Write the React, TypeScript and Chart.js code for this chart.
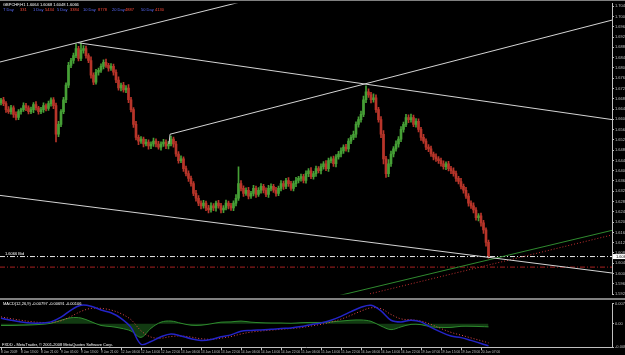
import React, { useEffect, useRef } from "react";
import { Chart, registerables } from "chart.js";

Chart.register(...registerables);

const FONT = "'Liberation Sans', Arial, sans-serif";

// ---- price data (H1 bars, GBPCHF) ----
const FIRST_OPEN = 1.6665;
const CLOSES = [
  1.6676, 1.6661, 1.6638, 1.663, 1.6645, 1.6619, 1.6607, 1.663, 1.6638, 1.6653,
  1.6645, 1.663, 1.6638, 1.6657, 1.6645, 1.663, 1.6638, 1.6653, 1.6642, 1.6661,
  1.6676, 1.6653, 1.6542, 1.658, 1.663, 1.6676, 1.6733, 1.681, 1.6829, 1.6848,
  1.6875, 1.6837, 1.6868, 1.6875, 1.6848, 1.6829, 1.6772, 1.6745, 1.6783, 1.6791,
  1.6806, 1.6822, 1.681, 1.6799, 1.6806, 1.6783, 1.6753, 1.6722, 1.6733, 1.6714,
  1.6722, 1.6676, 1.6638, 1.658, 1.653, 1.6515, 1.6523, 1.6504, 1.6511, 1.6496,
  1.6504, 1.6515, 1.6504, 1.6492, 1.6504, 1.6511, 1.6496, 1.6504, 1.6523, 1.6504,
  1.6465, 1.6439, 1.6446, 1.6408, 1.6389, 1.637, 1.635, 1.6312, 1.6293, 1.6274,
  1.6263, 1.6274, 1.6255, 1.6247, 1.6263, 1.6255, 1.6274, 1.6263, 1.6247, 1.6255,
  1.6274, 1.6263, 1.6255, 1.6274, 1.6293, 1.635, 1.6331, 1.6312, 1.6324, 1.6301,
  1.6312, 1.6331, 1.6308, 1.6324, 1.6339, 1.6324, 1.6308, 1.6331, 1.6339, 1.6324,
  1.6312, 1.6331, 1.635, 1.6339, 1.6362, 1.635, 1.6331, 1.635, 1.6362, 1.637,
  1.6377, 1.6362, 1.6389, 1.64, 1.6377, 1.6389, 1.6408, 1.64, 1.6416, 1.6427,
  1.6408, 1.6439, 1.6446, 1.6427, 1.6454, 1.6465, 1.6477, 1.6492, 1.6485, 1.6515,
  1.653, 1.6542, 1.658, 1.6599, 1.6619, 1.6676, 1.6707, 1.6695, 1.6676, 1.6684,
  1.6638, 1.6599, 1.6542, 1.6446, 1.6389, 1.6427, 1.6465, 1.6485, 1.6504, 1.6523,
  1.6561, 1.658, 1.6607, 1.6599, 1.6607, 1.658, 1.6592, 1.6561, 1.653, 1.6515,
  1.6492, 1.6485, 1.6465, 1.6454, 1.6446, 1.6439, 1.6427, 1.6416, 1.6427, 1.6408,
  1.64, 1.6389, 1.637, 1.6358, 1.6339, 1.6324, 1.6301, 1.6274, 1.6263, 1.6247,
  1.6217, 1.6224, 1.6197, 1.617, 1.6121, 1.6065,
];
// upper / lower wick lengths in pips
const WICK_UP = [
  6, 10, 8, 12, 9, 7, 10, 8, 6, 11, 9, 7, 10, 8, 12, 6, 9, 11, 7, 10,
  8, 9, 10, 12, 8, 10, 9, 12, 8, 10, 19, 9, 30, 12, 10, 8, 14, 9, 11, 8,
  10, 9, 12, 8, 11, 9, 10, 12, 8, 11, 9, 13, 10, 8, 12, 9, 10, 8, 11, 9,
  8, 12, 9, 10, 8, 11, 9, 10, 12, 8, 10, 9, 12, 8, 10, 11, 9, 8, 12, 10,
  9, 11, 8, 10, 12, 9, 8, 11, 10, 9, 12, 8, 10, 9, 14, 65, 12, 10, 9, 11,
  8, 12, 9, 10, 11, 8, 9, 12, 10, 8, 11, 9, 12, 10, 8, 11, 9, 10, 12, 8,
  10, 9, 11, 8, 12, 9, 10, 8, 11, 9, 12, 10, 8, 11, 9, 10, 12, 9, 11, 10,
  9, 12, 10, 11, 13, 14, 23, 12, 10, 15, 11, 9, 12, 14, 10, 16, 11, 9, 12, 10,
  11, 9, 12, 10, 13, 9, 11, 10, 8, 12, 9, 10, 11, 8, 12, 9, 10, 11, 8, 10,
  9, 11, 10, 8, 12, 9, 11, 10, 9, 12, 10, 9, 11, 10, 8, 9,
];
const WICK_DN = [
  9, 8, 11, 7, 10, 12, 9, 8, 10, 7, 11, 9, 8, 12, 9, 10, 8, 11, 9, 7,
  10, 12, 30, 10, 9, 8, 11, 10, 9, 12, 8, 10, 9, 11, 10, 9, 12, 10, 8, 11,
  9, 10, 8, 12, 9, 11, 10, 9, 12, 8, 10, 11, 9, 12, 10, 14, 9, 11, 8, 12,
  10, 9, 11, 8, 12, 9, 10, 11, 8, 12, 9, 10, 8, 11, 9, 12, 10, 9, 11, 10,
  12, 9, 10, 11, 8, 10, 12, 9, 11, 10, 8, 12, 9, 10, 11, 9, 10, 12, 8, 11,
  9, 10, 12, 8, 11, 10, 9, 12, 10, 8, 11, 9, 10, 12, 9, 11, 8, 10, 12, 9,
  11, 9, 10, 12, 8, 10, 11, 9, 12, 10, 8, 11, 9, 10, 12, 9, 11, 10, 9, 12,
  10, 9, 12, 11, 10, 9, 11, 10, 12, 9, 11, 10, 13, 20, 15, 12, 10, 11, 9, 12,
  10, 11, 9, 12, 10, 9, 11, 10, 12, 9, 10, 11, 9, 12, 10, 11, 9, 10, 12, 9,
  11, 10, 12, 9, 10, 11, 9, 12, 10, 11, 9, 12, 13, 14, 15, 5,
];

const PRICE_TICKS = [
  1.704, 1.7, 1.696, 1.692, 1.688, 1.684, 1.68, 1.676, 1.672, 1.668,
  1.664, 1.66, 1.656, 1.652, 1.648, 1.644, 1.64, 1.636, 1.632, 1.628,
  1.624, 1.62, 1.616, 1.612, 1.608, 1.604, 1.6, 1.596, 1.592,
];

const TIME_LABEL_BARS = [0, 8, 16, 24, 32, 40, 48, 56, 64, 72, 80, 88, 96, 104, 112, 120, 128, 136, 144, 152, 160, 168, 176, 184, 192];
const TIME_LABELS = [
  "8 Jan 2009", "8 Jan 13:00", "8 Jan 21:00", "9 Jan 05:00", "9 Jan 13:00", "9 Jan 21:00",
  "12 Jan 06:00", "12 Jan 14:00", "12 Jan 22:00", "13 Jan 06:00", "13 Jan 14:00", "13 Jan 22:00",
  "14 Jan 06:00", "14 Jan 14:00", "14 Jan 22:00", "15 Jan 06:00", "15 Jan 14:00", "15 Jan 22:00",
  "16 Jan 06:00", "16 Jan 14:00", "16 Jan 22:00", "19 Jan 07:00", "19 Jan 15:00", "19 Jan 23:00",
  "20 Jan 07:00",
];

// trend lines: [bar index, price]
const TREND_TOP = [[-0.4, 1.6823], [96.8, 1.7059]];
const TREND_DOWN = [[30.8, 1.6898], [244.4, 1.6599]];
const TREND_UP = [[67.2, 1.6504], [67.6, 1.6542], [244.4, 1.6986]];
const TREND_LOW = [[-0.4, 1.6304], [244.4, 1.6002]];
const TREND_GREEN = [[135.6, 1.5915], [244.4, 1.6168]];
const TREND_RED = [[147.6, 1.5921], [244.4, 1.615]];
const BID = 1.6066;
const RED_LEVEL = 1.6025;

// ---- MACD(12,26,9) ----
const MACD_BARS = [0, 4, 8, 12, 16, 20, 24, 28, 32, 36, 40, 44, 48, 52, 56, 60, 64, 68, 72, 76, 80, 84, 88, 92, 96, 100, 104, 108, 112, 116, 120, 124, 128, 132, 136, 140, 144, 148, 152, 156, 160, 164, 168, 172, 176, 180, 184, 188, 192, 195];
const MACD_MAIN = [
  0.002, 0.0013, 0.0007, 0.0003, 0.0003, 0.0007, 0.0024, 0.005, 0.0067, 0.0064,
  0.005, 0.004, 0.002, -0.0013, -0.0074, -0.0064, -0.0047, -0.0037, -0.0044, -0.0054,
  -0.006, -0.0057, -0.0047, -0.004, -0.0027, -0.0024, -0.0022, -0.002, -0.0017, -0.0015,
  -0.001, -0.0003, 0.0003, 0.0013, 0.0027, 0.0044, 0.006, 0.0067, 0.0047, 0.0013,
  0.0007, 0.0013, 0.0007, -0.0013, -0.003, -0.0044, -0.005, -0.006, -0.0071, -0.008,
];
const MACD_SIGNAL = [
  0.0025, 0.0019, 0.0013, 0.0008, 0.0005, 0.0005, 0.0011, 0.0027, 0.0045, 0.0056,
  0.0056, 0.005, 0.0037, 0.0015, -0.0025, -0.0048, -0.0052, -0.0046, -0.0044, -0.0048,
  -0.0054, -0.0056, -0.0052, -0.0046, -0.0037, -0.003, -0.0026, -0.0023, -0.002, -0.0017,
  -0.0014, -0.0008, -0.0002, 0.0006, 0.0017, 0.0031, 0.0046, 0.0058, 0.0055, 0.0034,
  0.0018, 0.0015, 0.001, -0.0002, -0.0017, -0.0031, -0.0041, -0.0051, -0.0061, -0.0069,
];
const MACD_HIST = [
  -0.0006, -0.0006, -0.0005, -0.0004, -0.0002, 0.0002, 0.0013, 0.0022, 0.0021, 0.0008,
  -0.0006, -0.001, -0.0016, -0.0026, -0.0049, -0.0016, 0.0006, 0.001, 0.0002, -0.0005,
  -0.0005, 0.0, 0.0006, 0.0007, 0.001, 0.0006, 0.0004, 0.0003, 0.0003, 0.0002,
  0.0004, 0.0005, 0.0005, 0.0007, 0.001, 0.0013, 0.0014, 0.0009, -0.0008, -0.0021,
  -0.0011, -0.0002, -0.0003, -0.0011, -0.0013, -0.0013, -0.0009, -0.0009, -0.001, -0.0011,
];
const MACD_TICKS = [0.0074, 0, -0.0084];
const MACD_TICK_LABELS = ["0.007336", "0.00", "-0.008383"];

const TITLE = "GBPCHF,H1 1.6064 1.6068 1.6048 1.6066";
const STAT_TEXTS = ["T Day", "331", "1 Day", "5434", "5 Day", "3384", "10 Day", "8778", "20 Day", "4887", "50 Day", "4130"];
const MACD_TITLE = "MACD(12,26,9) -0.00797 -0.00691 -0.00106";
const FOOTER = "FXDD - MetaTrader, \u00a9 2001-2008 MetaQuotes Software Corp.";

const X_MIN = -0.4;
const X_MAX = 244.4;
const Y_MIN = 1.5918;
const Y_MAX = 1.7051;
const PIP = 0.0001;
const UP = "#46a036";
const DOWN = "#b8352a";
const LINE = "#d4d4d4";
const AXIS = "#c0c0c0";

const pts = (arr: number[][]) => arr.map(([x, y]) => ({ x, y }));

export default function App() {
  const mainRef = useRef<HTMLCanvasElement>(null);
  const macdRef = useRef<HTMLCanvasElement>(null);

  useEffect(() => {
    document.body.style.margin = "0";
    document.body.style.background = "#000";

    const wick: any[] = [];
    const body: any[] = [];
    const colors: string[] = [];
    for (let i = 0; i < CLOSES.length; i++) {
      const o = i === 0 ? FIRST_OPEN : CLOSES[i - 1];
      const c = CLOSES[i];
      wick.push({ x: i, y: [Math.min(o, c) - WICK_DN[i] * PIP, Math.max(o, c) + WICK_UP[i] * PIP] });
      body.push({ x: i, y: [o, c] });
      colors.push(c >= o ? UP : DOWN);
    }

    const lineDs = (data: any[], color: string, dash: number[] = [], order = 0) => ({
      type: "line" as const,
      data,
      borderColor: color,
      borderWidth: 1,
      borderDash: dash,
      pointRadius: 0,
      tension: 0,
      order,
    });

    const mainOverlay = {
      id: "mainOverlay",
      afterDraw(chart: any) {
        const ctx = chart.ctx;
        const area = chart.chartArea;
        const ys = chart.scales.y;
        ctx.save();
        ctx.fillStyle = "#808080";
        ctx.fillRect(0, 0, chart.width, 1);
        ctx.font = `4px ${FONT}`;
        ctx.textBaseline = "middle";
        ctx.textAlign = "left";
        ctx.fillStyle = "#ffffff";
        ctx.fillText(TITLE, 3, 4.5);
        const sx = [3, 20, 33, 45, 57, 70, 83, 98, 112, 125, 141, 155];
        STAT_TEXTS.forEach((t, i) => {
          ctx.fillStyle = i % 2 === 0 ? "#5a6cff" : "#ff4a3a";
          ctx.fillText(t, sx[i], 9.5);
        });
        const by = ys.getPixelForValue(BID);
        ctx.fillStyle = "#ffffff";
        ctx.fillText(BID.toFixed(4) + " Bid", 5, by - 3);
        ctx.fillRect(area.right + 1, by - 2.5, chart.width - area.right - 1, 5);
        ctx.fillStyle = "#000000";
        ctx.fillText(BID.toFixed(4), area.right + 4, by);
        ctx.restore();
      },
    };

    const main = new Chart(mainRef.current as HTMLCanvasElement, {
      type: "bar",
      data: {
        datasets: [
          lineDs(pts(TREND_TOP), LINE),
          lineDs(pts(TREND_DOWN), LINE),
          lineDs(pts(TREND_UP), LINE),
          lineDs(pts(TREND_LOW), LINE),
          lineDs(pts(TREND_GREEN), "#2f8a2f"),
          lineDs(pts(TREND_RED), "#c03030", [1, 2]),
          lineDs([{ x: X_MIN, y: BID }, { x: X_MAX, y: BID }], "#e8e8e8", [5, 2, 1, 2]),
          lineDs([{ x: X_MIN, y: RED_LEVEL }, { x: X_MAX, y: RED_LEVEL }], "#a82020", [5, 2, 1, 2]),
          {
            type: "bar",
            data: body,
            backgroundColor: colors,
            barThickness: 2,
            grouped: false,
            minBarLength: 1,
            order: 1,
          } as any,
          {
            type: "bar",
            data: wick,
            backgroundColor: colors,
            barThickness: 1,
            grouped: false,
            minBarLength: 1,
            order: 2,
          } as any,
        ],
      },
      options: {
        responsive: false,
        animation: false,
        devicePixelRatio: 1,
        layout: { padding: { top: 2, left: 0, right: 0, bottom: 0 } },
        plugins: { legend: { display: false }, tooltip: { enabled: false } },
        scales: {
          x: { type: "linear", min: X_MIN, max: X_MAX, offset: false, display: false },
          y: {
            position: "right",
            min: Y_MIN,
            max: Y_MAX,
            afterFit: (s: any) => { s.width = 13; },
            afterBuildTicks: (s: any) => { s.ticks = PRICE_TICKS.map((v) => ({ value: v })); },
            ticks: {
              color: AXIS,
              font: { size: 4, family: FONT },
              padding: 1,
              callback: (v: any) => Number(v).toFixed(4),
            },
            grid: { drawOnChartArea: false, tickLength: 2, color: AXIS },
            border: { color: AXIS },
          },
        },
      } as any,
      plugins: [mainOverlay],
    });

    const macdOverlay = {
      id: "macdOverlay",
      afterDraw(chart: any) {
        const ctx = chart.ctx;
        ctx.save();
        ctx.font = `4px ${FONT}`;
        ctx.textBaseline = "middle";
        ctx.textAlign = "left";
        ctx.fillStyle = "#ffffff";
        ctx.fillText(MACD_TITLE, 3, 4);
        ctx.fillText(FOOTER, 2, 44.5);
        ctx.restore();
      },
    };

    const macd = new Chart(macdRef.current as HTMLCanvasElement, {
      type: "line",
      data: {
        datasets: [
          {
            data: MACD_BARS.map((b, i) => ({ x: b, y: MACD_MAIN[i] })),
            borderColor: "#2424c8",
            borderWidth: 1.5,
            pointRadius: 0,
            tension: 0.35,
            order: 0,
          },
          {
            data: MACD_BARS.map((b, i) => ({ x: b, y: MACD_SIGNAL[i] })),
            borderColor: "#e04848",
            borderWidth: 1,
            borderDash: [1, 2],
            pointRadius: 0,
            tension: 0.35,
            order: 1,
          },
          {
            data: MACD_BARS.map((b, i) => ({ x: b, y: MACD_HIST[i] })),
            borderColor: "#2e8b2e",
            backgroundColor: "rgba(40,130,40,0.45)",
            fill: "origin",
            borderWidth: 1,
            pointRadius: 0,
            tension: 0.35,
            order: 2,
          },
        ],
      },
      options: {
        responsive: false,
        animation: false,
        devicePixelRatio: 1,
        layout: { padding: { top: 1, left: 0, right: 0, bottom: 0 } },
        plugins: { legend: { display: false }, tooltip: { enabled: false } },
        scales: {
          x: {
            type: "linear",
            min: X_MIN,
            max: X_MAX,
            offset: false,
            afterFit: (s: any) => { s.height = 8; },
            afterBuildTicks: (s: any) => { s.ticks = TIME_LABEL_BARS.map((v) => ({ value: v })); },
            ticks: {
              align: "start",
              autoSkip: false,
              maxRotation: 0,
              minRotation: 0,
              padding: 0,
              color: AXIS,
              font: { size: 3.3, family: FONT },
              callback: (_v: any, i: number) => TIME_LABELS[i],
            },
            grid: { drawOnChartArea: false, tickLength: 3, color: AXIS },
            border: { color: AXIS },
          },
          y: {
            position: "right",
            min: -0.0084,
            max: 0.0074,
            afterFit: (s: any) => { s.width = 13; },
            afterBuildTicks: (s: any) => { s.ticks = MACD_TICKS.map((v) => ({ value: v })); },
            ticks: {
              color: AXIS,
              font: { size: 4, family: FONT },
              padding: 1,
              callback: (_v: any, i: number) => MACD_TICK_LABELS[i],
            },
            grid: { drawOnChartArea: false, tickLength: 2, color: AXIS },
            border: { color: AXIS },
          },
        },
      } as any,
      plugins: [macdOverlay],
    });

    return () => {
      main.destroy();
      macd.destroy();
    };
  }, []);

  return (
    <div style={{ width: 625, height: 355, background: "#000", overflow: "hidden" }}>
      <canvas ref={mainRef} width={625} height={298} style={{ display: "block" }} />
      <div style={{ height: 2, background: "#808080" }} />
      <canvas ref={macdRef} width={625} height={55} style={{ display: "block" }} />
    </div>
  );
}
